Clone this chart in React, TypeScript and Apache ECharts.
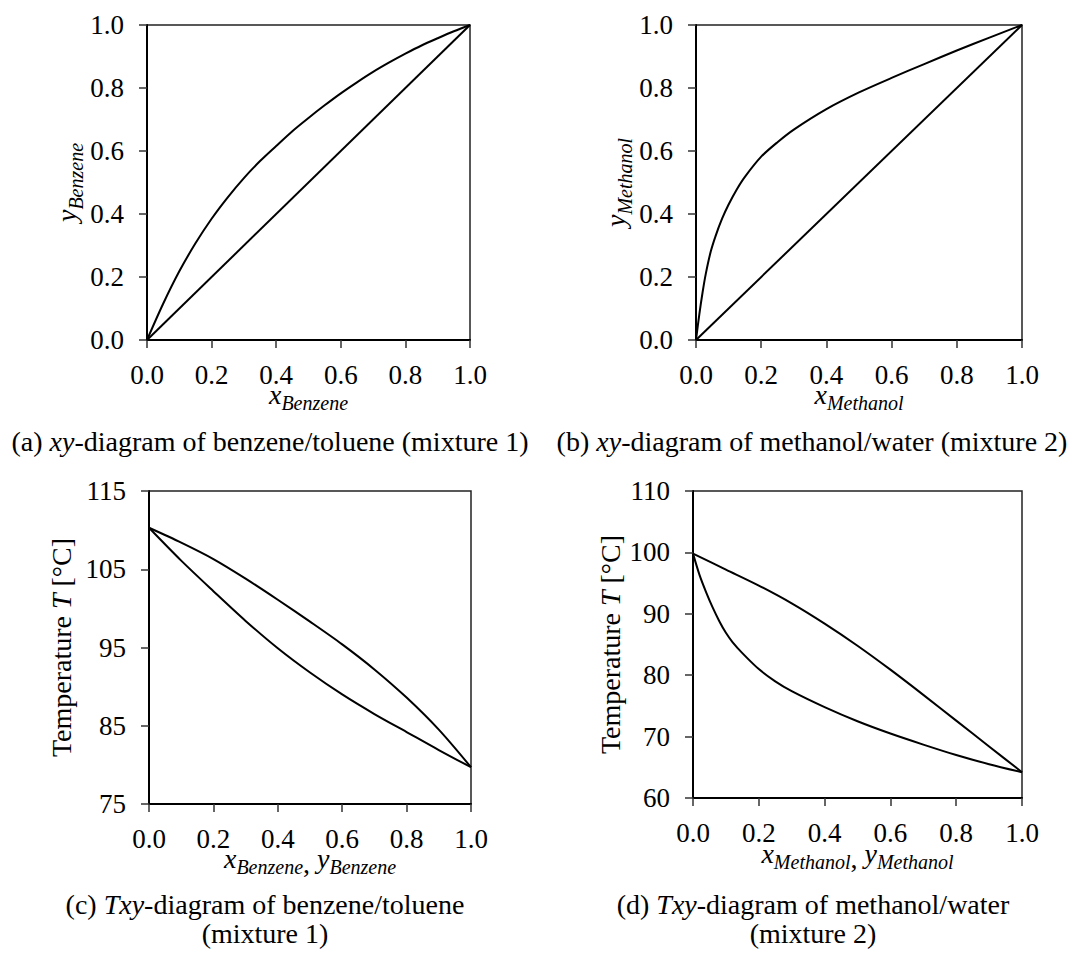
import React, { useEffect, useRef } from "react";
import * as echarts from "echarts";

// ---- (a) benzene/toluene xy-diagram ----
const benzeneX = [0, 0.05, 0.1, 0.15, 0.2, 0.25, 0.3, 0.35, 0.4, 0.45, 0.5, 0.55, 0.6, 0.65, 0.7, 0.75, 0.8, 0.85, 0.9, 0.95, 1.0];
const benzeneY = [0, 0.115, 0.218, 0.307, 0.385, 0.453, 0.514, 0.568, 0.616, 0.663, 0.705, 0.745, 0.783, 0.818, 0.851, 0.881, 0.909, 0.935, 0.958, 0.98, 1.0];

// ---- (b) methanol/water xy-diagram ----
const methanolX = [0, 0.01, 0.02, 0.03, 0.045, 0.06, 0.08, 0.1, 0.125, 0.15, 0.2, 0.25, 0.3, 0.4, 0.5, 0.6, 0.7, 0.8, 0.9, 1.0];
const methanolY = [0, 0.08, 0.15, 0.21, 0.28, 0.33, 0.385, 0.43, 0.478, 0.518, 0.582, 0.628, 0.668, 0.733, 0.786, 0.832, 0.876, 0.919, 0.96, 1.0];

// diagonal y = x
const diagonal = [0, 1];

// ---- (c) benzene/toluene Txy-diagram ----
const benzeneComp = [0, 0.1, 0.2, 0.3, 0.4, 0.5, 0.6, 0.7, 0.8, 0.9, 1.0];
const benzeneBubbleT = [110.3, 106.1, 102.2, 98.4, 94.9, 91.8, 89.0, 86.5, 84.2, 81.9, 79.7];
const benzeneDewT = [110.3, 108.4, 106.3, 103.8, 101.1, 98.3, 95.4, 92.2, 88.6, 84.5, 79.7];
const benzeneTTicks = [75, 85, 95, 105, 115];

// ---- (d) methanol/water Txy-diagram ----
const methanolBubbleX = [0, 0.02, 0.04, 0.06, 0.08, 0.1, 0.12, 0.15, 0.2, 0.25, 0.3, 0.4, 0.5, 0.6, 0.7, 0.8, 0.9, 1.0];
const methanolBubbleT = [99.8, 96.3, 93.5, 91.0, 88.8, 86.9, 85.4, 83.6, 81.0, 79.0, 77.4, 74.8, 72.5, 70.5, 68.7, 67.0, 65.5, 64.2];
const methanolDewY = [0, 0.1, 0.2, 0.3, 0.4, 0.5, 0.6, 0.7, 0.8, 0.9, 1.0];
const methanolDewT = [99.8, 97.2, 94.6, 91.7, 88.4, 84.8, 80.9, 76.8, 72.6, 68.4, 64.2];

const SERIF = '"Liberation Serif", "Times New Roman", Times, serif';
const BLACK = "#000";
const TICK_FONT = 27;

const zip = (xs: number[], ys: number[]) => xs.map((x, i) => [x, ys[i]]);

const nameRich = {
  i: { fontFamily: SERIF, fontStyle: "italic", fontSize: 28, lineHeight: 28, color: BLACK, verticalAlign: "bottom", padding: [0, 0, 5, 0] },
  s: { fontFamily: SERIF, fontStyle: "italic", fontSize: 20, lineHeight: 20, color: BLACK, verticalAlign: "bottom" },
  c: { fontFamily: SERIF, fontSize: 28, lineHeight: 28, color: BLACK, verticalAlign: "bottom" },
  m: { fontFamily: SERIF, fontSize: 28, lineHeight: 28, color: BLACK },
  t: { fontFamily: SERIF, fontStyle: "italic", fontSize: 28, lineHeight: 28, color: BLACK },
};

const axisCommon = {
  type: "value",
  axisLine: { show: true, onZero: false, lineStyle: { color: BLACK, width: 2 } },
  axisTick: { show: true, inside: false, length: 8, lineStyle: { color: "#333", width: 1.5 } },
  splitLine: { show: false },
  nameLocation: "middle",
  nameMoveOverlap: false,
  nameTextStyle: { fontFamily: SERIF, fontSize: 28, color: BLACK, rich: nameRich },
};

const fracLabel = (margin: number, lineHeight?: number) => ({
  margin,
  lineHeight,
  fontFamily: SERIF,
  fontSize: TICK_FONT,
  color: BLACK,
  formatter: (v: number) => v.toFixed(1),
});

const intLabel = (margin: number) => ({
  margin,
  fontFamily: SERIF,
  fontSize: TICK_FONT,
  color: BLACK,
  formatter: (v: number) => String(Math.round(v)),
});

function fracXAxis(gridIndex: number, name: string, nameGap: number) {
  return {
    ...axisCommon,
    gridIndex,
    min: 0,
    max: 1,
    interval: 0.2,
    axisLabel: fracLabel(24.5, 20),
    name,
    nameGap,
  };
}

const lineSeries = (xAxisIndex: number, data: number[][], smooth: boolean) => ({
  type: "line",
  xAxisIndex,
  yAxisIndex: xAxisIndex,
  data,
  showSymbol: false,
  symbol: "none",
  smooth: smooth ? 0.3 : false,
  lineStyle: { color: BLACK, width: 2 },
  silent: true,
  z: 3,
});

const captionStyle = (text: string, x: number, y: number) => ({
  type: "text",
  x,
  y,
  silent: true,
  style: {
    text,
    fill: BLACK,
    fontFamily: SERIF,
    fontSize: 28,
    lineHeight: 29,
    align: "center",
    verticalAlign: "middle",
    rich: {
      i: { fontFamily: SERIF, fontStyle: "italic", fontSize: 28, lineHeight: 29, fill: BLACK },
    },
  },
});

export default function App() {
  const ref = useRef<HTMLDivElement>(null);

  useEffect(() => {
    if (!ref.current) return;
    const chart = echarts.init(ref.current, undefined, { renderer: "svg" });

    const gridCommon = {
      show: true,
      borderColor: "#222",
      borderWidth: 1.5,
      backgroundColor: "transparent",
      containLabel: false,
      outerBoundsMode: "none",
    };

    chart.setOption({
      animation: false,
      backgroundColor: "#fff",
      grid: [
        { ...gridCommon, left: 147, top: 25, width: 323, height: 315 },
        { ...gridCommon, left: 696, top: 25, width: 326, height: 315 },
        { ...gridCommon, left: 149, top: 491, width: 322, height: 313 },
        { ...gridCommon, left: 693, top: 491, width: 329, height: 307 },
      ],
      xAxis: [
        fracXAxis(0, "{i|x}{s|Benzene}", 45),
        fracXAxis(1, "{i|x}{s|Methanol}", 45),
        fracXAxis(2, "{i|x}{s|Benzene}{c|, }{i|y}{s|Benzene}", 45),
        fracXAxis(3, "{i|x}{s|Methanol}{c|, }{i|y}{s|Methanol}", 46),
      ],
      yAxis: [
        {
          ...axisCommon,
          gridIndex: 0,
          min: 0,
          max: 1,
          interval: 0.2,
          axisLabel: fracLabel(23),
          name: "{i|y}{s|Benzene}",
          nameGap: 61.5,
        },
        {
          ...axisCommon,
          gridIndex: 1,
          min: 0,
          max: 1,
          interval: 0.2,
          axisLabel: fracLabel(23),
          name: "{i|y}{s|Methanol}",
          nameGap: 61.5,
        },
        {
          ...axisCommon,
          gridIndex: 2,
          min: 75,
          max: 115,
          axisLabel: { ...intLabel(23), customValues: benzeneTTicks },
          axisTick: { ...axisCommon.axisTick, customValues: benzeneTTicks },
          name: "{m|Temperature }{t|T}{m| [°C]}",
          nameGap: 74,
        },
        {
          ...axisCommon,
          gridIndex: 3,
          min: 60,
          max: 110,
          interval: 10,
          axisLabel: intLabel(23),
          name: "{m|Temperature }{t|T}{m| [°C]}",
          nameGap: 69,
        },
      ],
      series: [
        lineSeries(0, zip(diagonal, diagonal), false),
        lineSeries(0, zip(benzeneX, benzeneY), true),
        lineSeries(1, zip(diagonal, diagonal), false),
        lineSeries(1, zip(methanolX, methanolY), true),
        lineSeries(2, zip(benzeneComp, benzeneBubbleT), true),
        lineSeries(2, zip(benzeneComp, benzeneDewT), true),
        lineSeries(3, zip(methanolBubbleX, methanolBubbleT), true),
        lineSeries(3, zip(methanolDewY, methanolDewT), true),
      ],
      graphic: [
        captionStyle("(a) {i|xy}-diagram of benzene/toluene (mixture 1)", 270, 441.5),
        captionStyle("(b) {i|xy}-diagram of methanol/water (mixture 2)", 812, 441.5),
        captionStyle("(c) {i|Txy}-diagram of benzene/toluene\n(mixture 1)", 265, 919),
        captionStyle("(d) {i|Txy}-diagram of methanol/water\n(mixture 2)", 813, 919),
      ],
    });

    return () => chart.dispose();
  }, []);

  return (
    <div
      ref={ref}
      style={{ position: "absolute", left: 0, top: 0, width: 1079, height: 954 }}
    />
  );
}
